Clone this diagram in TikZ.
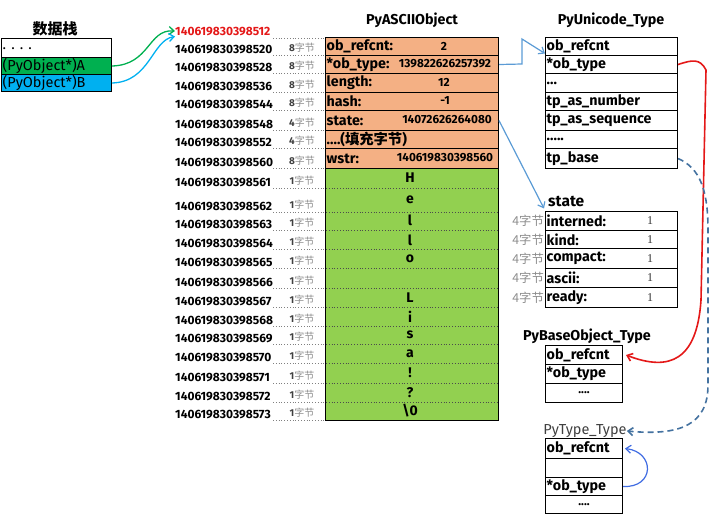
\documentclass[tikz,border=0pt]{standalone}
\usepackage{fontspec}
\setmainfont{Fira Sans}
\newfontfamily\cjk{Noto Sans CJK SC}
\newfontfamily\ser{Liberation Serif}
\usetikzlibrary{arrows.meta}
\definecolor{stkgreen}{RGB}{0,176,80}
\definecolor{stkblue}{RGB}{0,176,240}
\definecolor{orng}{RGB}{244,176,132}
\definecolor{cgreen}{RGB}{146,208,80}
\definecolor{steel}{RGB}{91,155,213}
\definecolor{dashc}{RGB}{68,114,160}
\definecolor{redc}{RGB}{228,24,24}
\definecolor{sizegray}{RGB}{140,140,140}
\begin{document}
\begin{tikzpicture}[x=1pt,y=-1pt,
  box/.style={draw=black, line width=1pt, inner sep=0pt, anchor=north west},
  fld/.style={font=\fontsize{14.3}{15}\selectfont\bfseries, anchor=west, inner sep=1.5pt},
  stk/.style={font=\fontsize{14.5}{15}\selectfont, anchor=west, inner sep=1.5pt},
  val/.style={font=\fontsize{11.8}{13}\selectfont\bfseries, inner sep=0pt},
  ttl/.style={font=\fontsize{14.3}{16}\selectfont\bfseries, inner sep=0pt},
  addr/.style={font=\fontsize{12}{13}\selectfont\bfseries, anchor=base west, inner sep=0pt},
  sz/.style={font=\fontsize{10}{12}\selectfont, anchor=base, inner sep=0pt},
  sz4/.style={font=\cjk\fontsize{12.3}{13}\selectfont, anchor=east, inner sep=1pt, text=sizegray},
  one/.style={font=\ser\fontsize{12}{13}\selectfont, text=black!80, inner sep=0pt},
  tip/.style={-{Straight Barb[length=5pt,width=8pt]}},
  dotl/.style={gray, dotted, line width=0.8pt}
]
\useasboundingbox (0,0) rectangle (720,515);

% ---------- data stack ----------
\node[ttl, font=\cjk\fontsize{15}{17}\selectfont\bfseries] (stktitle) at (55,29) {数据栈};
\node[box, fill=white, minimum width=110pt, minimum height=19pt] (s0) at (1,38) {};
\node[box, fill=stkgreen, minimum width=110pt, minimum height=17pt] (sA) at (1,57) {};
\node[box, fill=stkblue, minimum width=110pt, minimum height=17pt] (sB) at (1,74) {};
\node[stk] at ([yshift=-1pt]s0.west) {. . . .};
\node[stk] at (sA.west) {(PyObject*)A};
\node[stk] at (sB.west) {(PyObject*)B};

% ---------- addresses ----------
\node[addr, text=redc] (a512) at (175,35) {140619830398512};
\draw[dotl] (273,38) -- (325,38);
\foreach \a/\y/\s in {520/55/8,528/73/8,536/92/8,544/110/8,548/130/4,552/148/4,560/168/8,
  561/188/1,562/212/1,563/230/1,564/249/1,565/268/1,566/288/1,567/307/1,568/326/1,569/344/1,570/363/1,571/383/1,572/402/1,573/420/1}{
  \node[addr] (a\a) at (175,\y-2) {140619830398\a};
  \node[sz] (s\a) at (302,\y-4) {{\bfseries\color{black!75}\s}{\cjk\color{sizegray}字节}};
  \draw[dotl] (273,\y) -- (325,\y);
}

% ---------- PyASCIIObject ----------
\node[ttl] (asciititle) at (412,20) {PyASCIIObject};
\node[box, fill=orng, minimum width=173pt, minimum height=18pt] (r1) at (325,37) {};
\node[box, fill=orng, minimum width=173pt, minimum height=18pt] (r2) at (325,55) {};
\node[box, fill=orng, minimum width=173pt, minimum height=19pt] (r3) at (325,73) {};
\node[box, fill=orng, minimum width=173pt, minimum height=18pt] (r4) at (325,92) {};
\node[box, fill=orng, minimum width=173pt, minimum height=20pt] (r5) at (325,110) {};
\node[box, fill=orng, minimum width=173pt, minimum height=18pt] (r6) at (325,130) {};
\node[box, fill=orng, minimum width=173pt, minimum height=20pt] (r7) at (325,148) {};
\node[fld] at (r1.west) {ob\_refcnt:};
\node[fld] at (r2.west) {*ob\_type:};
\node[fld] at (r3.west) {length:};
\node[fld] at (r4.west) {hash:};
\node[fld] at (r5.west) {state:};
\node[fld] at (r6.west) {....({\cjk 填充字节})};
\node[fld] at (r7.west) {wstr:};
\node[val] at (444,46) {2};
\node[val] at (445,64) {139822626257392};
\node[val] at (444,82.5) {12};
\node[val] at (445,101) {-1};
\node[val] at (447,120) {14072626264080};
\node[val] at (445,158) {140619830398560};
\node[box, fill=cgreen, minimum width=173pt, minimum height=252pt] (gbody) at (325,168) {};
\foreach \y in {188,212,230,249,268,288,307,326,344,363,383,402}{
  \draw[black!70, dotted, line width=0.8pt] (326,\y) -- (497,\y);
}
\foreach \c/\y [count=\i] in {H/178,e/200,l/220,l/240,o/258.5,L/297.5,i/316.5,s/335,a/353.5,!/373,?/392.5,{\textbackslash 0}/411}{
  \node[val, font=\fontsize{14}{15}\selectfont\bfseries] (ch\i) at (410,\y) {\c};
}

% ---------- PyUnicode_Type ----------
\node[ttl] (unititle) at (611,20) {PyUnicode\_Type};
\node[box, fill=white, minimum width=132pt, minimum height=18pt] (u1) at (545,37) {};
\node[box, fill=white, minimum width=132pt, minimum height=18pt] (u2) at (545,55) {};
\node[box, fill=white, minimum width=132pt, minimum height=19pt] (u3) at (545,73) {};
\node[box, fill=white, minimum width=132pt, minimum height=18pt] (u4) at (545,92) {};
\node[box, fill=white, minimum width=132pt, minimum height=20pt] (u5) at (545,110) {};
\node[box, fill=white, minimum width=132pt, minimum height=18pt] (u6) at (545,130) {};
\node[box, fill=white, minimum width=132pt, minimum height=20pt] (u7) at (545,148) {};
\node[fld] at (u1.west) {ob\_refcnt};
\node[fld] at (u2.west) {*ob\_type};
\node[fld] at (u3.west) {...};
\node[fld] at (u4.west) {tp\_as\_number};
\node[fld] at (u5.west) {tp\_as\_sequence};
\node[fld] at (u6.west) {.....};
\node[fld] at (u7.west) {tp\_base};

% ---------- state ----------
\node[ttl, font=\fontsize{15.5}{17}\selectfont\bfseries, anchor=west] (sttitle) at (548,201) {state};
\node[box, fill=white, minimum width=132pt, minimum height=19pt] (t1) at (545,211) {};
\node[box, fill=white, minimum width=132pt, minimum height=18pt] (t2) at (545,230) {};
\node[box, fill=white, minimum width=132pt, minimum height=20pt] (t3) at (545,248) {};
\node[box, fill=white, minimum width=132pt, minimum height=19pt] (t4) at (545,268) {};
\node[box, fill=white, minimum width=132pt, minimum height=20pt] (t5) at (545,287) {};
\foreach \n/\f in {1/interned:,2/kind:,3/compact:,4/ascii:,5/ready:}{
  \node[fld] at (t\n.west) {\f};
  \node[one] at (t\n.center -| 650,0) {1};
  \node[sz4] at (t\n.west) {4字节};
}

% ---------- PyBaseObject_Type ----------
\node[ttl] (basetitle) at (587,336) {PyBaseObject\_Type};
\node[box, fill=white, minimum width=77pt, minimum height=19pt] (b1) at (545,345) {};
\node[box, fill=white, minimum width=77pt, minimum height=19pt] (b2) at (545,364) {};
\node[box, fill=white, minimum width=77pt, minimum height=19pt] (b3) at (545,383) {};
\node[fld] at (b1.west) {ob\_refcnt};
\node[fld] at (b2.west) {*ob\_type};
\node[val] at (b3.center) {....};

% ---------- PyType_Type ----------
\node[ttl, font=\fontsize{14.5}{16}\selectfont, text=black!75] (typetitle) at (585,431) {PyType\_Type};
\node[box, fill=white, minimum width=77pt, minimum height=20pt] (p1) at (545,438) {};
\node[box, fill=white, minimum width=77pt, minimum height=19pt] (p2) at (545,458) {};
\node[box, fill=white, minimum width=77pt, minimum height=18pt] (p3) at (545,477) {};
\node[box, fill=white, minimum width=77pt, minimum height=18pt] (p4) at (545,495) {};
\node[fld] at (p1.west) {ob\_refcnt};
\node[fld] at (p3.west) {*ob\_type};
\node[val] at (p4.center) {....};

% ---------- connectors ----------
\draw[tip, stkgreen, line width=1.3pt] (sA.east) .. controls (150,65) and (148,29) .. (a512.west);
\draw[tip, stkblue, line width=1.3pt] (sB.east) .. controls (150,82) and (152,40) .. ([yshift=-1pt]a512.south west);
\draw[tip, steel, line width=1.2pt] (r2.east) -- (522,64) -- (522,39) -- ([yshift=-7pt]u1.west);
\draw[tip, steel, line width=1.2pt] (r5.east) -- ([shift={(-4pt,-2pt)}]sttitle.south west);
\draw[tip, redc, line width=1.6pt] (u2.east) .. controls (692,60) and (700,58) .. (706,70)
  -- (701,300) .. controls (697,360) and (670,372) .. ([xshift=3pt]b1.east);
\draw[tip, dashc, dashed, dash pattern=on 6pt off 4pt, line width=1.6pt] (u7.east) .. controls (700,168) and (708,190) .. (708,230)
  -- (708,385) .. controls (708,425) and (680,436) .. (typetitle.east);
\draw[tip, steel!70!blue, line width=1.2pt] (p3.east) .. controls (655,488) and (655,452) .. ([xshift=2pt]p1.east);
\end{tikzpicture}
\end{document}
